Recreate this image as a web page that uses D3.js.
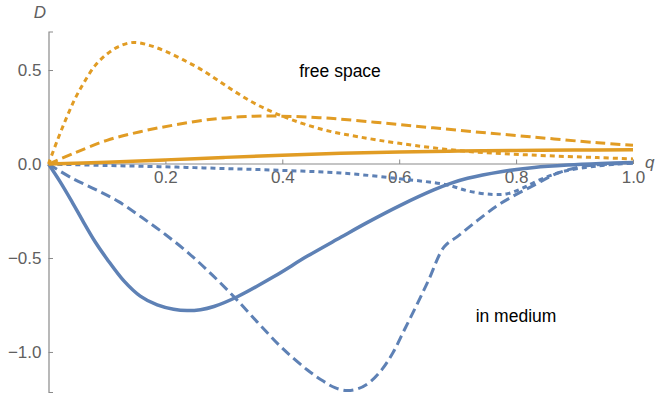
<!DOCTYPE html>
<html>
<head>
<meta charset="utf-8">
<script src="https://cdn.jsdelivr.net/npm/d3@7"></script>
<style>
  html, body { margin: 0; padding: 0; background: #fff; }
  svg { display: block; font-family: "Liberation Sans", Arial, sans-serif; }
</style>
</head>
<body>
<svg id="chart" width="656" height="399"></svg>
<script>
// Free-space curves (orange), [q, D] pairs
const freeSolid = [[0,0],[0.1,0.01],[0.2,0.022],[0.3,0.035],[0.4,0.047],[0.5,0.057],[0.6,0.064],[0.7,0.069],[0.8,0.072],[0.9,0.074],[1.0,0.076]];
const freeDashed = [[0,0],[0.043,0.057],[0.10,0.126],[0.157,0.172],[0.214,0.207],[0.271,0.235],[0.328,0.251],[0.385,0.255],[0.482,0.243],[0.596,0.211],[0.71,0.177],[0.824,0.145],[0.94,0.113],[1.0,0.10]];
const freeDotted = [[0,0],[0.015,0.125],[0.03,0.24],[0.045,0.345],[0.06,0.43],[0.08,0.525],[0.1,0.585],[0.12,0.625],[0.146,0.647],[0.174,0.630],[0.2,0.60],[0.23,0.555],[0.26,0.505],[0.29,0.445],[0.32,0.383],[0.35,0.327],[0.38,0.281],[0.41,0.243],[0.44,0.21],[0.48,0.175],[0.53,0.145],[0.6,0.11],[0.71,0.069],[0.824,0.048],[0.94,0.034],[1.0,0.027]];

// In-medium curves (blue), [q, D] pairs
const mediumSolid = [[0,0],[0.02,-0.095],[0.04,-0.2],[0.06,-0.31],[0.08,-0.415],[0.1,-0.505],[0.129,-0.622],[0.157,-0.703],[0.186,-0.75],[0.214,-0.773],[0.237,-0.78],[0.26,-0.775],[0.283,-0.758],[0.323,-0.706],[0.385,-0.60],[0.443,-0.49],[0.5,-0.39],[0.545,-0.312],[0.602,-0.22],[0.659,-0.138],[0.688,-0.103],[0.717,-0.076],[0.774,-0.041],[0.831,-0.018],[0.888,-0.005],[0.945,0.003],[1.0,0.008]];
const mediumDashed = [[0,0],[0.04,-0.075],[0.08,-0.135],[0.12,-0.2],[0.16,-0.285],[0.2,-0.375],[0.24,-0.475],[0.28,-0.59],[0.32,-0.715],[0.36,-0.85],[0.4,-0.98],[0.443,-1.096],[0.47,-1.155],[0.49,-1.19],[0.51,-1.205],[0.53,-1.195],[0.55,-1.16],[0.57,-1.095],[0.59,-1.0],[0.61,-0.875],[0.63,-0.75],[0.65,-0.62],[0.677,-0.44],[0.70,-0.385],[0.734,-0.3],[0.774,-0.209],[0.831,-0.112],[0.87,-0.05],[0.91,-0.015],[0.95,-0.002],[1.0,0.005]];
const mediumDotted = [[0,0],[0.1,-0.008],[0.2,-0.015],[0.3,-0.024],[0.4,-0.034],[0.5,-0.048],[0.6,-0.078],[0.68,-0.11],[0.72,-0.145],[0.76,-0.162],[0.785,-0.158],[0.81,-0.13],[0.84,-0.085],[0.88,-0.04],[0.94,-0.01],[1.0,0.005]];

// Axis ticks and labels
const xMajor = [0.2, 0.4, 0.6, 0.8, 1.0];
const xMinor = [0.05,0.1,0.15,0.25,0.3,0.35,0.45,0.5,0.55,0.65,0.7,0.75,0.85,0.9,0.95];
const yMajor = [-1.0, -0.5, 0.0, 0.5];
const yMinor = [-1.2,-1.1,-0.9,-0.8,-0.7,-0.6,-0.4,-0.3,-0.2,-0.1,0.1,0.2,0.3,0.4,0.6];

const blue = "#5E81B5", orange = "#E19C24";
const axisColor = "#8a8a8a", labelColor = "#606060";

const svg = d3.select("#chart");
const x = d3.scaleLinear().domain([0, 1]).range([48.5, 633]);
const y = d3.scaleLinear().domain([-1.213, 0.705]).range([392, 31.5]);

const fmt = d => d === 0 ? "0.0" : d3.format(".1f")(d).replace("-", "\u2212");

// x axis: ticks pointing up into the plot, labels below
const gx = svg.append("g").attr("transform", `translate(0,${y(0)})`);
gx.call(d3.axisBottom(x).tickValues(xMinor).tickSize(-2.5).tickFormat(""));
gx.call(d3.axisBottom(x).tickValues(xMajor).tickSize(-4.5).tickPadding(16).tickFormat(fmt));
gx.select(".domain").attr("d", `M${x(0)},0H${x(1)}`);

// y axis: ticks pointing right, labels left
const gy = svg.append("g").attr("transform", `translate(${x(0)},0)`);
gy.call(d3.axisLeft(y).tickValues(yMinor).tickSize(-2.5).tickFormat(""));
gy.call(d3.axisLeft(y).tickValues(yMajor).tickSize(-4.5).tickPadding(7).tickFormat(fmt));

svg.selectAll(".domain").attr("stroke", axisColor).attr("stroke-width", 1.2);
svg.selectAll(".tick line").attr("stroke", axisColor).attr("stroke-width", 1);
svg.selectAll(".tick text").attr("fill", labelColor).attr("font-size", 17)
  .attr("font-family", '"Liberation Sans", Arial, sans-serif');
gx.selectAll(".tick text").attr("dy", "0.2em");

// axis names
svg.append("text").attr("x", 40).attr("y", 18).attr("text-anchor", "middle")
  .attr("font-style", "italic").attr("font-size", 17).attr("fill", labelColor).text("D");
svg.append("text").attr("x", 645).attr("y", 168)
  .attr("font-style", "italic").attr("font-size", 17).attr("fill", labelColor).text("q");

// curves
const line = d3.line().x(d => x(d[0])).y(d => y(d[1])).curve(d3.curveCatmullRom.alpha(0.5));
const series = [
  { data: mediumDotted, color: blue, w: 3, dash: "5,4" },
  { data: mediumDashed, color: blue, w: 3, dash: "10,5" },
  { data: mediumSolid, color: blue, w: 3.5, dash: null },
  { data: freeDotted, color: orange, w: 3, dash: "5,4" },
  { data: freeDashed, color: orange, w: 3, dash: "10,5" },
  { data: freeSolid, color: orange, w: 3.5, dash: null }
];
svg.append("g").selectAll("path").data(series).join("path")
  .attr("d", s => line(s.data))
  .attr("fill", "none")
  .attr("stroke", s => s.color)
  .attr("stroke-width", s => s.w)
  .attr("stroke-dasharray", s => s.dash)
  .attr("stroke-linejoin", "round");

// annotations
svg.append("text").attr("x", 340).attr("y", 77).attr("text-anchor", "middle")
  .attr("font-size", 17.5).attr("fill", "#000").text("free space");
svg.append("text").attr("x", 516).attr("y", 322).attr("text-anchor", "middle")
  .attr("font-size", 17.5).attr("fill", "#000").text("in medium");
</script>
</body>
</html>
